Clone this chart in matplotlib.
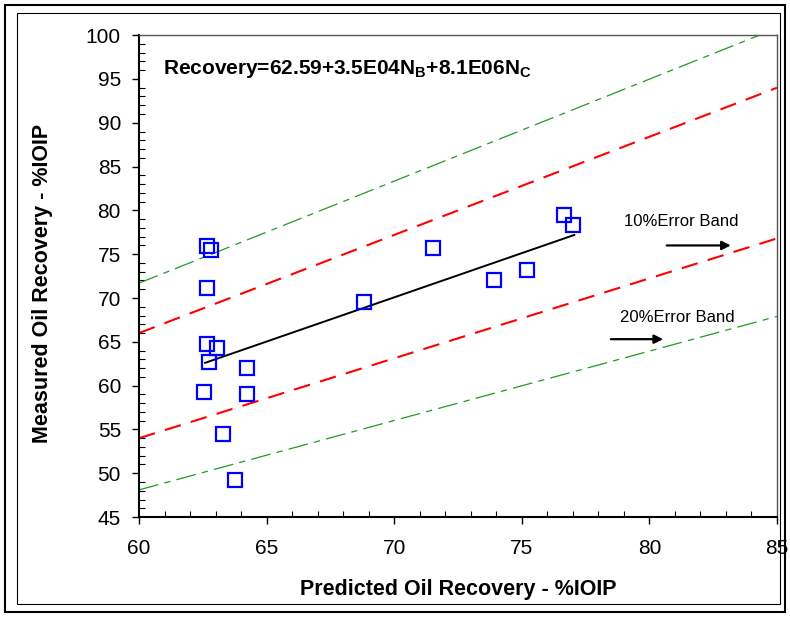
import matplotlib
matplotlib.use('Agg')
import matplotlib.pyplot as plt
from matplotlib.patches import Rectangle
from matplotlib.ticker import MultipleLocator

plt.rcParams['font.family'] = ['Liberation Sans', 'DejaVu Sans']
plt.rcParams['mathtext.fontset'] = 'custom'
plt.rcParams['mathtext.rm'] = 'Liberation Sans'
plt.rcParams['mathtext.bf'] = 'Liberation Sans:bold'

# measured vs predicted recovery
predicted = [62.65, 62.81, 62.65, 62.65, 63.04, 62.74, 64.22, 62.56, 64.22,
             63.28, 63.76, 68.83, 71.51, 73.92, 75.19, 76.65, 76.99]
measured = [75.96, 75.47, 71.10, 64.74, 64.25, 62.72, 61.97, 59.23, 59.03,
            54.47, 49.22, 69.57, 75.66, 72.04, 73.18, 79.46, 78.32]

# fitted line end points
fit_x = [62.59, 77.06]
fit_y = [62.6, 77.2]

# error band lines
band_x = [60, 85]
upper10 = [66.0, 94.0]
lower10 = [54.0, 76.8]
upper20 = [71.7, 100.8]
lower20 = [48.1, 67.9]

fig = plt.figure(figsize=(7.9, 6.17), dpi=100)
ax = fig.add_axes([0.176, 0.162, 0.8075, 0.781])

ax.plot(band_x, upper20, color='#229922', lw=0.9, dashes=(16, 5, 5, 5))
ax.plot(band_x, lower20, color='#229922', lw=0.9, dashes=(16, 5, 5, 5))
ax.plot(band_x, upper10, color='#ff0000', lw=1.5, dashes=(8, 5))
ax.plot(band_x, lower10, color='#ff0000', lw=1.5, dashes=(8, 5))
ax.plot(fit_x, fit_y, color='black', lw=1.4)
ax.plot(predicted, measured, 's', mfc='none', mec='#0000ff', mew=1.6, ms=10.5)

ax.set_xlim(60, 85)
ax.set_ylim(45, 100)
ax.xaxis.set_major_locator(MultipleLocator(5))
ax.xaxis.set_minor_locator(MultipleLocator(1))
ax.yaxis.set_major_locator(MultipleLocator(5))
ax.yaxis.set_minor_locator(MultipleLocator(1))
ax.tick_params(which='major', direction='out', length=5, width=1, labelsize=15)
ax.tick_params(axis='x', which='major', pad=11)
ax.tick_params(axis='y', which='major', pad=8)
ax.tick_params(which='minor', direction='in', length=4, width=0.8)

for s in ['left', 'bottom']:
    ax.spines[s].set_linewidth(1.5)
for s in ['top', 'right']:
    ax.spines[s].set_linewidth(1)
    ax.spines[s].set_color('#555555')

ax.set_xlabel('Predicted Oil Recovery - %IOIP', fontsize=15.5, fontweight='bold')
ax.set_ylabel('Measured Oil Recovery - %IOIP', fontsize=15.5, fontweight='bold')
ax.xaxis.set_label_coords(0.5, -0.129)
ax.yaxis.set_label_coords(-0.135, 0.485)

ax.text(0.037, 0.93, r'Recovery=62.59+3.5E04N$_\mathbf{B}$+8.1E06N$_\mathbf{C}$',
        transform=ax.transAxes, fontsize=15, fontweight='bold', va='center')

ax.text(81.24, 78.7, '10%Error Band', fontsize=12, ha='center', va='center')
ax.annotate('', xy=(83.3, 76.0), xytext=(80.57, 76.0),
            arrowprops=dict(arrowstyle='-|>', color='black', lw=1.6, mutation_scale=13))
ax.text(81.1, 67.8, '20%Error Band', fontsize=12, ha='center', va='center')
ax.annotate('', xy=(80.65, 65.3), xytext=(78.38, 65.3),
            arrowprops=dict(arrowstyle='-|>', color='black', lw=1.6, mutation_scale=13))

# chart frames
fig.patches.append(Rectangle((5 / 790, 5 / 617), 780 / 790, 607 / 617, transform=fig.transFigure,
                             fill=False, ec='black', lw=1.5))
fig.patches.append(Rectangle((17 / 790, 13 / 617), 763 / 790, 591 / 617, transform=fig.transFigure,
                             fill=False, ec='black', lw=0.8))

fig.savefig('out.png', dpi=100)
